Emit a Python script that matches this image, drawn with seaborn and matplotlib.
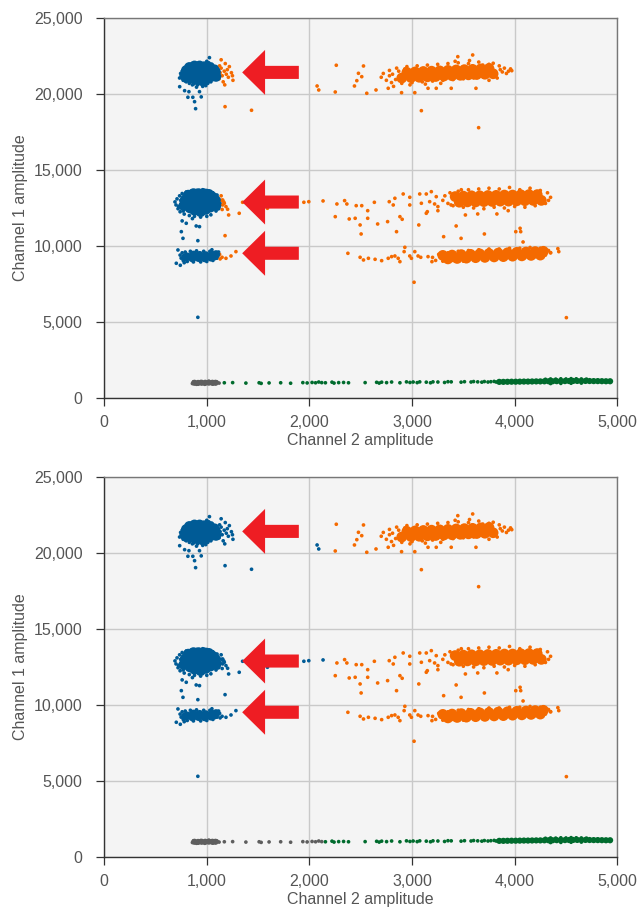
# droplet amplitude scatter, two panels
import pandas as pd
import matplotlib.pyplot as plt
import seaborn as sns
from matplotlib.patches import FancyArrow
from matplotlib.ticker import FuncFormatter

# ---- blue clusters (double positive ch1 / low ch2) ----
blue_core_x = [790, 815, 850, 850, 895, 895, 900, 945, 950, 950, 1000, 1000, 1005, 1045, 1050, 1075,
               800, 830, 880, 930, 980, 1030, 1070, 1090, 1085, 960,
               775, 800, 835, 845, 880, 885, 890, 935, 940, 945, 990, 995, 1000, 1035, 1040, 1045, 1075,
               790, 820, 870, 920, 970, 1020, 1060, 1090, 1085, 940]
blue_core_y = [21150, 21250, 21050, 21480, 20950, 21300, 21620, 21100, 21420, 21700, 21000, 21320, 21620, 21150, 21480, 21300,
               21550, 21750, 21850, 21850, 21800, 21750, 21600, 21150, 21450, 20850,
               12650, 12800, 12500, 13100, 12350, 12800, 13250, 12400, 12800, 13200, 12400, 12800, 13200, 12550, 12900, 13250, 12850,
               13050, 13350, 13450, 13450, 13450, 13400, 13200, 12650, 13000, 12250]
blue_thin_x = [790, 810, 860, 870, 920, 930, 980, 990, 1040, 1050, 1075, 1090]
blue_thin_y = [9250, 9300, 9200, 9420, 9220, 9400, 9200, 9380, 9250, 9400, 9320, 9450]
blue_x = [735, 745, 750, 760, 770, 780, 800, 810, 830, 840, 870, 880, 910, 920, 960, 970, 1000, 1026, 1010, 1040,
          1050, 1080, 1090, 1100, 1110, 1105, 1020, 960, 900,
          760, 775, 790, 820, 860, 990, 1060, 1085, 1095,
          736, 784, 826, 816, 864, 881, 891, 946, 929,
          690, 700, 710, 720, 735, 740, 760, 780, 800, 830, 850, 880, 900, 940, 960, 990, 1000, 1040, 1060,
          1090, 1100, 1110, 1120, 1130, 1000,
          725, 745, 770, 1110, 1115, 1100,
          752, 768, 913, 800, 897, 929, 760, 860,
          740, 750, 760, 770, 790, 810, 840, 870, 900, 940, 970, 1000, 1030, 1060, 1080, 1100, 1110, 1115,
          719, 703, 742, 1050, 780,
          913]
blue_y = [21050, 21350, 21200, 21500, 20900, 21650, 20800, 21750, 20700, 21850, 20650, 21900, 20600, 21950, 20650,
          22000, 22150, 22390, 20700, 20800, 21950, 21000, 21800, 21200, 21500, 21650, 22050, 20500, 20450,
          21100, 21400, 20850, 21900, 20600, 20550, 21750, 21100, 21400,
          20480, 20217, 20151, 19783, 19783, 19493, 19033, 19809, 20151,
          12900, 12700, 13100, 12450, 13300, 12250, 13450, 12100, 13550, 12000, 13600, 11950, 13650, 11900, 13700,
          13600, 11950, 12050, 13500, 12300, 13350, 12600, 13050, 12800, 13650,
          12600, 13000, 12300, 12950, 12450, 13200,
          10942, 10503, 10349, 11493, 11316, 11272, 11650, 11800,
          9400, 9200, 9550, 9050, 9600, 8980, 9650, 8950, 9680, 8950, 9650, 8980, 9650, 9050, 9550, 9200, 9400, 9600,
          9737, 8862, 8730, 9750, 8900,
          5307]

# points that change call between the two panels (orange on top, blue below)
edge_x = [1120, 1130, 1140, 1150, 1160, 1170, 1180, 1190, 1200, 1210, 1220, 1240, 1250, 1255, 1140, 1175, 1125,
          1178, 1436, 2075, 2091,
          1145, 1155, 1165, 1171, 1155, 1187, 1203, 1213, 1316, 1178, 1349, 1591, 1946, 1994, 2133, 1140, 1150,
          1149, 1187, 1236, 1284, 1125, 1130]
edge_y = [21000, 21400, 21700, 21200, 20800, 21500, 22000, 21300, 21600, 21100, 21800, 21400, 21200, 20900, 22250, 20600, 21850,
          19165, 18928, 20526, 20263,
          13000, 12700, 12900, 12809, 13026, 12590, 12414, 12040, 12151, 10679, 12875, 12480, 12875, 12914, 12963, 13300, 12400,
          9255, 9189, 9342, 9628, 9450, 9150]

# ---- orange clusters (ch2 positive) ----
orange_core_x = [2950, 3030, 3110, 3190, 3270, 3350, 3430, 3510, 3590, 3670, 3750,
                 2900, 2990, 3070, 3150, 3230, 3310, 3390, 3470, 3550, 3630, 3710, 3790,
                 3420, 3500, 3580, 3660, 3740, 3820, 3900, 3980, 4060, 4140, 4220,
                 3460, 3540, 3620, 3700, 3780, 3860, 3940, 4020, 4100, 4180, 4260,
                 3300, 3390, 3480, 3570, 3660, 3750, 3840, 3930, 4020, 4110, 4200, 4280,
                 3350, 3440, 3530, 3620, 3710, 3800, 3890, 3980, 4070, 4160, 4250]
orange_core_y = [21420, 21450, 21480, 21500, 21520, 21550, 21580, 21600, 21620, 21650, 21680,
                 21050, 21080, 21100, 21130, 21150, 21180, 21200, 21230, 21260, 21280, 21300, 21330,
                 13250, 13280, 13300, 13300, 13320, 13330, 13350, 13350, 13370, 13380, 13380,
                 12880, 12900, 12900, 12920, 12930, 12950, 12950, 12970, 12980, 13000, 13000,
                 9380, 9400, 9430, 9450, 9480, 9500, 9530, 9550, 9580, 9600, 9630, 9650,
                 9150, 9180, 9200, 9230, 9250, 9280, 9300, 9330, 9350, 9380, 9400]
orange_x = [2700, 2720, 2750, 2780, 2800, 2850, 2900, 2950, 3000, 3050, 3100, 3150, 3200, 3250, 3300, 3350,
            3400, 3450, 3500, 3550, 3600, 3650, 3700, 3750, 3800, 3850, 3880, 3900, 3750, 2780, 2820,
            2810, 2840, 2870, 2930, 2980, 3130, 3280, 3420, 3560, 3690, 3830, 3860, 3920, 3940, 3960,
            2262, 2527, 2252, 2439, 2462, 2510, 2478, 2559, 2649, 2768, 2898, 3027, 3156, 3236, 3382, 3623,
            3972, 3791, 3591, 3446, 3091, 3649,
            3300, 3320, 3350, 3370, 3400, 3450, 3500, 3550, 3600, 3650, 3700, 3750, 3800, 3850, 3900, 3950,
            4000, 4050, 4100, 4150, 4200, 4250, 4300, 4320, 4350, 4330, 3380, 3480,
            2268, 2343, 2365, 2456, 2510, 2568, 2633, 2778, 2833, 2817, 2914, 2978, 2978, 3075, 3091, 3139,
            3172, 3188, 3220, 3149, 3139, 3252, 3252, 2252, 2388, 2446, 2494, 2504, 2568, 2665, 2762, 2849,
            2882, 2904, 3066, 3308, 3430, 3478, 3520, 3640, 3705, 3827, 3937, 4011, 4053, 4059, 4082, 3236,
            3200, 3230, 3260, 3300, 3350, 3400, 3450, 3500, 3550, 3600, 3650, 3700, 3750, 3800, 3850, 3900,
            3950, 4000, 4050, 4100, 4150, 4200, 4250, 4300, 4330, 4350,
            2375, 2494, 2527, 2575, 2640, 2704, 2768, 2801, 2833, 2865, 2882, 2923, 2930, 2978, 2994, 3027,
            3059, 3085, 3156, 3194, 3020, 4421, 4430, 4350,
            4504]
orange_y = [21100, 21350, 20900, 21550, 20750, 21700, 20700, 21800, 20750, 21850, 20800, 21900, 20850, 21950,
            20900, 22000, 20950, 22050, 21000, 22000, 21050, 22100, 21100, 21950, 21200, 21850, 21450, 21700,
            20900, 21200, 20500,
            21300, 20950, 21500, 21650, 20600, 20650, 20700, 22150, 22200, 21900, 21050, 21600, 21350, 21500, 21650,
            21890, 21842, 20131, 20526, 20876, 21139, 21360, 20046, 20263, 20375, 20086, 20086, 20375, 20375,
            20375, 20375, 21533, 22020, 22566, 22455, 18902, 17783,
            13000, 13300, 12800, 13500, 12650, 13600, 12550, 13700, 12500, 13750, 12450, 13800, 12550, 13750,
            12500, 13850, 12600, 13700, 12550, 13800, 12650, 13650, 12800, 13500, 13200, 13000, 12700, 13700,
            12763, 12983, 12763, 12652, 12652, 12322, 12873, 12914, 13138, 12697, 13421, 13204, 12697, 13421,
            12809, 13421, 12914, 13573, 12763, 12257, 12151, 12590, 12322, 11928, 11776, 11822, 11382, 10790,
            11822, 11447, 11601, 10941, 11928, 11756, 11382, 10612, 11316, 10503, 12040, 12106, 10790, 12106,
            12322, 10941, 11163, 10941, 10263, 13244,
            9250, 9050, 9450, 9000, 9550, 9050, 9650, 9000, 9700, 9100, 9750, 9100, 9800, 9150, 9800, 9150,
            9850, 9200, 9850, 9250, 9900, 9300, 9850, 9400, 9700, 9550,
            9518, 9255, 9079, 9189, 9123, 9035, 9189, 9299, 9342, 9189, 8969, 9628, 9912, 9342, 9189, 9628,
            9342, 9255, 9299, 8969, 7613, 9824, 9628, 9562,
            5285]

# ---- negative droplets ----
gray_core_x = [880, 915, 950, 985, 1020, 1055, 1085]
gray_core_y = [1000, 990, 1000, 1000, 1010, 1000, 1000]
gray_x = [860, 870, 900, 940, 980, 1020, 1060, 1100, 1120]
gray_y = [950, 1060, 900, 1080, 900, 1090, 920, 1050, 980]

# trail that is green on top, grey below
trail_x = [1171, 1252, 1381, 1510, 1530, 1607, 1720, 1817, 1936, 1978, 2026, 2060, 2091, 2120]
trail_y = [1000, 1010, 980, 1000, 960, 990, 1000, 970, 1010, 990, 1020, 1000, 1050, 1010]

green_core_x = [3850, 3890, 3930, 3970, 4010, 4050, 4090, 4130, 4170, 4210, 4250, 4290, 4330, 4370,
                4410, 4450, 4490, 4530, 4570, 4610, 4650, 4690, 4730, 4770, 4810, 4850, 4890, 4930]
green_core_y = [1060, 1060, 1065, 1070, 1070, 1075, 1080, 1080, 1085, 1090, 1090, 1095, 1100, 1100,
                1105, 1110, 1110, 1115, 1120, 1120, 1120, 1120, 1115, 1110, 1110, 1105, 1100, 1100]
green_x = [2156, 2220, 2240, 2285, 2333, 2381, 2543, 2655, 2680, 2704, 2752, 2801, 2882, 2946, 2980, 3011,
           3050, 3075, 3139, 3180, 3204, 3252, 3317, 3350, 3382, 3478, 3511, 3575, 3600, 3640, 3680, 3705,
           3740, 3768, 3800, 3820,
           4300, 4350, 4400, 4450, 4500, 4550, 4600, 4650, 4700, 4350, 4450, 4550, 4650]
green_y = [1000, 1040, 980, 1010, 1020, 1000, 1010, 1030, 980, 1040, 1010, 1050, 1000, 1060, 1020, 1050,
           1010, 1060, 1040, 1000, 1060, 1050, 1020, 1070, 1060, 1040, 1070, 1050, 1080, 1060, 1040, 1080,
           1050, 1070, 1090, 1050,
           1230, 1250, 1240, 1260, 1250, 1270, 1260, 1250, 1240, 950, 960, 970, 980]

# arrow tips (ch1 level) marking the clusters
arrow_y = [21420, 12890, 9520]

xticks = [0, 1000, 2000, 3000, 4000, 5000]
yticks = [0, 5000, 10000, 15000, 20000, 25000]


def block(xs, ys, top, bottom, kind):
    return pd.DataFrame({"x": xs, "y": ys, "top": top, "bottom": bottom, "kind": kind})


df = pd.concat([
    block(green_core_x, green_core_y, "green", "green", "band"),
    block(green_x, green_y, "green", "green", "spray"),
    block(trail_x, trail_y, "green", "gray", "spray"),
    block(gray_core_x, gray_core_y, "gray", "gray", "band"),
    block(gray_x, gray_y, "gray", "gray", "spray"),
    block(orange_x, orange_y, "orange", "orange", "spray"),
    block(orange_core_x, orange_core_y, "orange", "orange", "big"),
    block(blue_x, blue_y, "blue", "blue", "spray"),
    block(edge_x, edge_y, "orange", "blue", "spray"),
    block(blue_core_x, blue_core_y, "blue", "blue", "core"),
    block(blue_thin_x, blue_thin_y, "blue", "blue", "thin"),
], ignore_index=True)

pal = {"blue": "#005b96", "orange": "#f46a00", "green": "#006b2d", "gray": "#5e5e5e"}
sizes = {"big": 60, "core": 58, "thin": 36, "band": 20, "spray": 7}

sns.set_style("ticks")
plt.rcParams["font.family"] = ["Liberation Sans", "DejaVu Sans"]

fig = plt.figure(figsize=(6.39, 9.08), dpi=100)
ax1 = fig.add_axes([0.163, 0.5617, 0.803, 0.4185])
ax2 = fig.add_axes([0.163, 0.0562, 0.803, 0.4185])

fmt = FuncFormatter(lambda v, p: f"{int(v):,}")
for ax, col in [(ax1, "top"), (ax2, "bottom")]:
    ax.set_facecolor("#f4f4f4")
    ax.grid(True, color="#c9c9c9", lw=1)
    ax.set_axisbelow(True)
    sns.scatterplot(data=df, x="x", y="y", hue=col, palette=pal, size="kind",
                    sizes=sizes, linewidth=0, legend=False, ax=ax)
    for ya in arrow_y:
        ax.add_patch(FancyArrow(1897, ya, -552, 0, width=860, head_width=2960, head_length=223,
                                length_includes_head=True, color="#ee1d23", lw=0, zorder=5))
    ax.set_xlim(0, 5000)
    ax.set_ylim(0, 25000)
    ax.set_xticks(xticks)
    ax.set_yticks(yticks)
    ax.xaxis.set_major_formatter(fmt)
    ax.yaxis.set_major_formatter(fmt)
    ax.tick_params(labelsize=11.5, labelcolor="#555555", color="#333333", length=6, width=0.9)
    ax.tick_params(axis="x", pad=6)
    ax.tick_params(axis="y", pad=9.5)
    ax.set_xlabel("Channel 2 amplitude", fontsize=11.5, color="#555555", labelpad=2.5)
    ax.set_ylabel("Channel 1 amplitude", fontsize=11.5, color="#555555", labelpad=4)
    for s in ["left", "bottom"]:
        ax.spines[s].set_color("#333333")
        ax.spines[s].set_linewidth(1)
    for s in ["top", "right"]:
        ax.spines[s].set_color("#777777")
        ax.spines[s].set_linewidth(1)

fig.savefig("out.png", dpi=100)
